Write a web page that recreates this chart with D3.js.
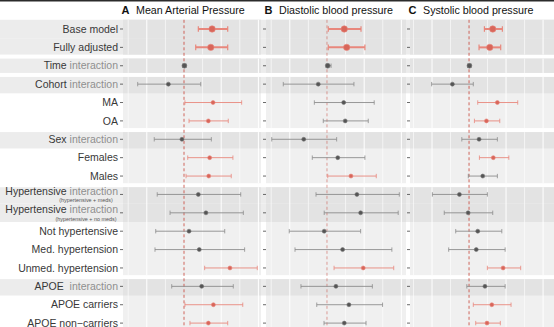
<!DOCTYPE html>
<html>
<head>
<meta charset="utf-8">
<script src="https://cdn.jsdelivr.net/npm/d3@7"></script>
<style>
  html, body { margin: 0; padding: 0; background: #fff; }
  svg { display: block; font-family: "Liberation Sans", Arial, sans-serif; }
  text { white-space: pre; }
</style>
</head>
<body>
<div class="chart"></div>
<script>
// row labels, top to bottom
const labelMain = ["Base model", "Fully adjusted", "Time", "Cohort", "MA", "OA", "Sex",
  "Females", "Males", "Hypertensive", "Hypertensive", "Not hypertensive", "Med. hypertension",
  "Unmed. hypertension", "APOE ", "APOE carriers", "APOE non\u2212carriers"];
const interactionRows = [2, 3, 6, 9, 10, 14];
const subLabels = {9: "(hypertensive + meds)", 10: "(hypertensive + no meds)"};
const groupStarts = [0, 2, 3, 6, 9, 14];
const shadedRows = [0, 1, 2, 3, 6, 9, 10, 14];
const thickRows = [0, 1];

const panelLetters = ["A", "B", "C"];
const panelTitles = ["Mean Arterial Pressure", "Diastolic blood pressure", "Systolic blood pressure"];

// Mean arterial pressure
const mapEst = [1.51, 1.44, 0.02, -0.84, 1.56, 1.31, -0.11, 1.38, 1.33, 0.77, 1.18, 0.27, 0.82, 2.47, 0.95, 1.58, 1.31];
const mapLo  = [0.77, 0.63, -0.07, -2.49, 0.05, 0.27, -1.60, 0.20, 0.11, -1.44, -0.75, -1.52, -1.56, 1.11, -0.66, 0.05, 0.32];
const mapHi  = [2.35, 2.35, 0.12, 0.90, 3.10, 2.38, 1.47, 2.63, 2.54, 3.05, 3.19, 2.19, 3.26, 3.94, 2.65, 3.16, 2.35];
const mapSig = [1, 1, 0, 0, 1, 1, 0, 1, 1, 0, 0, 0, 0, 1, 0, 1, 1];

// Diastolic blood pressure
const dbpEst = [0.93, 1.06, 0.04, -0.47, 0.90, 0.98, -1.25, 0.58, 1.29, 1.61, 1.81, -0.15, 0.84, 1.95, 0.48, 1.18, 0.93];
const dbpLo  = [0.07, 0.07, -0.05, -2.35, -0.68, -0.20, -2.97, -0.79, 0.04, -0.59, -0.15, -2.03, -1.72, 0.38, -1.40, -0.55, -0.16];
const dbpHi  = [1.83, 2.04, 0.22, 1.45, 2.54, 2.22, 0.52, 2.04, 2.65, 3.89, 3.83, 1.81, 3.49, 3.59, 2.44, 2.99, 2.10];
const dbpSig = [1, 1, 0, 0, 0, 0, 0, 0, 1, 0, 0, 0, 0, 1, 0, 0, 0];

// Systolic blood pressure
const sbpEst = [1.28, 1.12, 0.02, -0.90, 1.53, 0.94, 0.54, 1.31, 0.74, -0.52, -0.05, 0.47, 0.39, 1.84, 0.86, 1.23, 0.97];
const sbpLo  = [0.83, 0.54, -0.08, -2.02, 0.47, 0.29, -0.39, 0.56, -0.04, -1.98, -1.34, -0.72, -1.10, 0.99, -0.12, 0.23, 0.36];
const sbpHi  = [1.80, 1.71, 0.11, 0.23, 2.63, 1.66, 1.53, 2.15, 1.53, 0.99, 1.28, 1.77, 1.95, 2.79, 1.95, 2.27, 1.69];
const sbpSig = [1, 1, 0, 0, 1, 1, 0, 1, 0, 0, 0, 0, 0, 1, 0, 1, 1];

const xDomains = [[-3.28, 4.14], [-3.28, 4.25], [-3.19, 4.59]];

let width = 554,
    height = 327;

const panelRanges = [[123, 261], [266, 406], [410, 554]];
const panels = [
  {est: mapEst, lo: mapLo, hi: mapHi, sig: mapSig},
  {est: dbpEst, lo: dbpLo, hi: dbpHi, sig: dbpSig},
  {est: sbpEst, lo: sbpLo, hi: sbpHi, sig: sbpSig}
];

const redLine = "#e8877c", redPoint = "#d8665a";
const grayLine = "#8c8c8c", grayPoint = "#555";

let svg = d3.select(".chart").append("svg")
  .attr("width", width)
  .attr("height", height);

let rowIdx = d3.range(labelMain.length);
let y = d3.scaleBand().domain(rowIdx).range([19.8, 332.3]);
let step = y.step();
let cy = i => y(i) + step / 2;

// vertical extent of row i, leaving a white gap at group boundaries
function rowTop(i) { return y(i) + (groupStarts.includes(i) && i > 0 ? 2 : 0); }
function rowBottom(i) { return y(i) + step - (groupStarts.includes(i + 1) ? 2 : 0); }

svg.append("rect").attr("x", 0).attr("y", 0).attr("width", width).attr("height", 1.5).attr("fill", "#2b2b2b");

// full width band behind highlighted rows
svg.append("g").selectAll("rect")
  .data(shadedRows)
  .join("rect")
  .attr("x", 0)
  .attr("width", width)
  .attr("y", d => rowTop(d))
  .attr("height", d => rowBottom(d) - rowTop(d))
  .attr("fill", "#ececec");

// row labels
let labels = svg.append("g").selectAll("text")
  .data(rowIdx)
  .join("text")
  .attr("x", panelRanges[0][0] - 5)
  .attr("y", d => subLabels[d] ? cy(d) + 0.5 : cy(d) + 3.6)
  .attr("text-anchor", "end")
  .attr("font-size", 10.5)
  .attr("fill", "#383838");
labels.append("tspan").text(d => labelMain[d]);
labels.filter(d => interactionRows.includes(d))
  .append("tspan")
  .attr("fill", "#8f8f8f")
  .text(" interaction");

svg.append("g").selectAll("text")
  .data(Object.keys(subLabels).map(Number))
  .join("text")
  .attr("x", 86)
  .attr("y", d => cy(d) + 8)
  .attr("text-anchor", "middle")
  .attr("font-size", 5.4)
  .attr("fill", "#555")
  .text(d => subLabels[d]);

panels.forEach((p, k) => {
  let [x0, x1] = panelRanges[k];
  let x = d3.scaleLinear().domain(xDomains[k]).range([x0, x1]);
  let g = svg.append("g");

  // group backgrounds
  groupStarts.forEach((s, gi) => {
    let e = (gi < groupStarts.length - 1 ? groupStarts[gi + 1] : rowIdx.length) - 1;
    g.append("rect")
      .attr("x", x0).attr("width", x1 - x0)
      .attr("y", rowTop(s))
      .attr("height", rowBottom(e) - rowTop(s))
      .attr("fill", "#f0f0f0");
  });
  g.selectAll("rect.shade")
    .data(shadedRows)
    .join("rect")
    .attr("class", "shade")
    .attr("x", x0).attr("width", x1 - x0)
    .attr("y", d => rowTop(d))
    .attr("height", d => rowBottom(d) - rowTop(d))
    .attr("fill", "#e3e3e3");

  // vertical grid, clipped to each group
  let ticks = d3.range(Math.ceil(xDomains[k][0]), Math.floor(xDomains[k][1]) + 1).filter(t => t !== 0);
  groupStarts.forEach((s, gi) => {
    let e = (gi < groupStarts.length - 1 ? groupStarts[gi + 1] : rowIdx.length) - 1;
    g.append("g").selectAll("line")
      .data(ticks)
      .join("line")
      .attr("x1", d => x(d)).attr("x2", d => x(d))
      .attr("y1", rowTop(s)).attr("y2", rowBottom(e))
      .attr("stroke", "#fff")
      .attr("stroke-width", d => d % 2 === 0 ? 1 : 0.6);
  });

  // y ticks
  g.append("g").selectAll("line")
    .data(rowIdx)
    .join("line")
    .attr("x1", x0 - 3).attr("x2", x0)
    .attr("y1", d => cy(d)).attr("y2", d => cy(d))
    .attr("stroke", "#444")
    .attr("stroke-width", 0.8);

  // reference line at zero
  g.append("line")
    .attr("x1", x(0)).attr("x2", x(0))
    .attr("y1", 19.8).attr("y2", height)
    .attr("stroke", "#c8463a")
    .attr("stroke-width", 0.9)
    .attr("stroke-dasharray", "3,2.5")
    .attr("opacity", k === 1 ? 0.55 : 0.9);

  // title
  svg.append("text")
    .attr("x", x0 - 1.5).attr("y", 14)
    .attr("font-size", 11).attr("font-weight", "bold").attr("fill", "#111")
    .text(panelLetters[k]);
  svg.append("text")
    .attr("x", x0 + 13).attr("y", 14)
    .attr("font-size", 10.7).attr("fill", "#111")
    .text(panelTitles[k]);

  let col = (d, a, b) => p.sig[d] ? a : b;
  let thick = d => thickRows.includes(d);

  let bars = g.append("g").selectAll("g")
    .data(rowIdx)
    .join("g");

  bars.append("line")
    .attr("x1", d => x(p.lo[d])).attr("x2", d => x(p.hi[d]))
    .attr("y1", d => cy(d)).attr("y2", d => cy(d))
    .attr("stroke", d => col(d, redLine, grayLine))
    .attr("stroke-width", d => thick(d) ? 2 : 0.9);

  ["lo", "hi"].forEach(end => {
    bars.append("line")
      .attr("x1", d => x(p[end][d])).attr("x2", d => x(p[end][d]))
      .attr("y1", d => cy(d) - (thick(d) ? 2.8 : 2.2))
      .attr("y2", d => cy(d) + (thick(d) ? 2.8 : 2.2))
      .attr("stroke", d => col(d, redLine, grayLine))
      .attr("stroke-width", d => thick(d) ? 1.2 : 0.8);
  });

  bars.append("circle")
    .attr("cx", d => x(p.est[d]))
    .attr("cy", d => cy(d))
    .attr("r", d => thick(d) ? 3.2 : (d === 2 ? 2.4 : 2))
    .attr("fill", d => col(d, redPoint, grayPoint))
    .attr("stroke", d => col(d, redLine, "#777"))
    .attr("stroke-width", 0.6);
});
</script>
</body>
</html>
